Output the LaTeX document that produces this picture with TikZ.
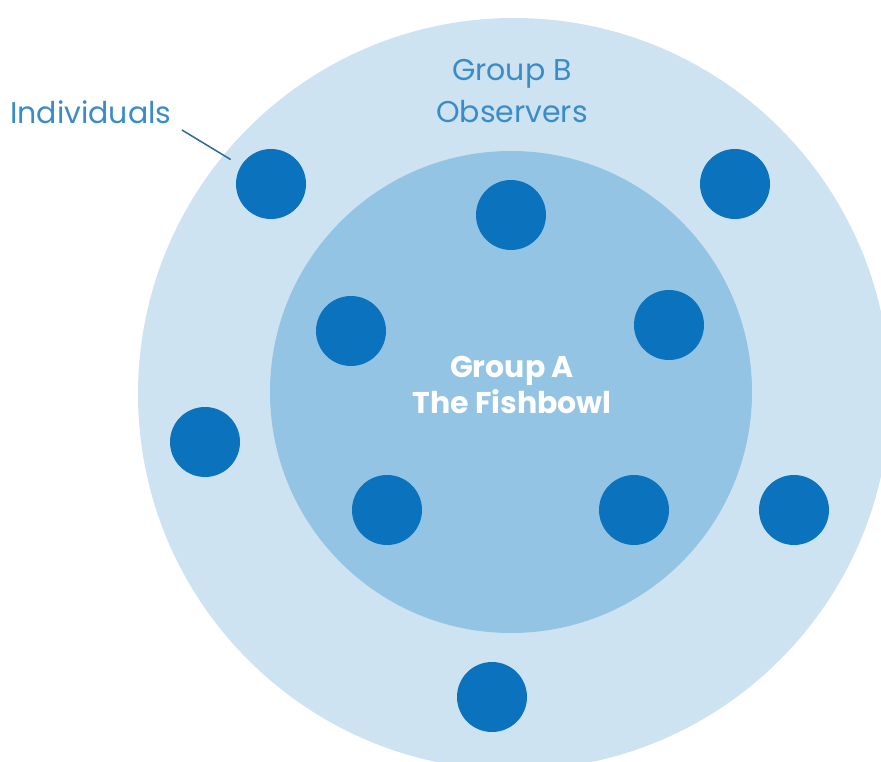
\documentclass[tikz,border=0pt]{standalone}
\usepackage{fontspec}
\setmainfont{Poppins}
\definecolor{observerblue}{HTML}{CDE3F2}
\definecolor{bowlblue}{HTML}{93C4E4}
\definecolor{dotblue}{HTML}{0B72BD}
\definecolor{labelblue}{HTML}{3A8CC9}
\definecolor{leaderblue}{HTML}{2D6A99}
\begin{document}
\begin{tikzpicture}[x=1pt, y=-1pt,
        person/.style={circle, fill=dotblue, inner sep=0pt, minimum size=70pt},
        grouplabel/.style={align=center, font=\fontsize{30}{42}\selectfont, text=labelblue}]
        \clip (0,0) rectangle (881,762) ;
        % the two rings
        \fill[observerblue] (514,394) circle (376) ;
        \fill[bowlblue] (511,392) circle (241) ;
        % people
        \foreach \x/\y [count=\i] in {271/184, 511/215, 735/184, 351/331, 669/325, 205/442, 387/510, 634/510, 794/510, 492/697}
            \node[person] (p\i) at (\x,\y) {} ;
        % labels
        \node[grouplabel] (groupb) at (512,91) {Group B\\Observers} ;
        \node[grouplabel, text=white, font=\fontsize{30}{36}\selectfont\bfseries] (groupa) at (512,385) {Group A\\The Fishbowl} ;
        \node[grouplabel, anchor=west, inner sep=0pt] (indiv) at (10,112) {Individuals} ;
        \draw[leaderblue, line width=1.5pt, shorten <=12pt, shorten >=12pt] (indiv.south east) -- (p1) ;
\end{tikzpicture}
\end{document}
